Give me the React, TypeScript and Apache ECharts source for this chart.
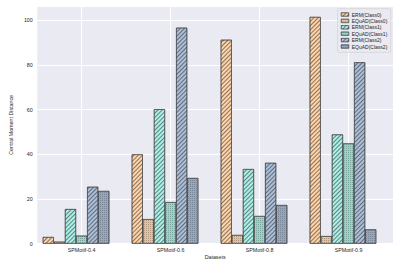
import React, { useEffect, useRef } from 'react';
import * as echarts from 'echarts';

const categories = ['SPMotif-0.4', 'SPMotif-0.6', 'SPMotif-0.8', 'SPMotif-0.9'];
const seriesNames = ['ERM(Class0)', 'EQuAD(Class0)', 'ERM(Class1)', 'EQuAD(Class1)', 'ERM(Class2)', 'EQuAD(Class2)'];
const ermClass0 = [3.0, 40.0, 91.3, 101.5];
const equadClass0 = [0.9, 11.0, 3.9, 3.4];
const ermClass1 = [15.5, 60.2, 33.4, 48.9];
const equadClass1 = [3.6, 18.6, 12.4, 44.9];
const ermClass2 = [25.5, 96.7, 36.2, 81.2];
const equadClass2 = [23.6, 29.4, 17.3, 6.4];
const yMax = 106.4;
const yInterval = 20;

const fills = ['#ffd3a8', '#e6c19c', '#aaf0e7', '#94d6ca', '#abbfd9', '#95a7c0'];
const seriesData = [ermClass0, equadClass0, ermClass1, equadClass1, ermClass2, equadClass2];

const hatchDecal = {
  symbol: 'rect',
  symbolSize: 1,
  dashArrayX: [1, 0],
  dashArrayY: [1, 2],
  rotation: -Math.PI / 4,
  color: 'rgba(40,40,40,0.55)',
};
const dotDecal = {
  symbol: 'rect',
  symbolSize: 1,
  dashArrayX: [1, 1],
  dashArrayY: [1, 1],
  rotation: 0,
  color: 'rgba(60,60,60,0.3)',
};

const FONT = 'Liberation Sans, Arial, sans-serif';
const TXT = '#262626';

export default function App() {
  const ref = useRef<HTMLDivElement>(null);
  useEffect(() => {
    if (!ref.current) return;
    const chart = echarts.init(ref.current, undefined, { renderer: 'svg' });
    const barWidth = 11.1;
    const series: any[] = seriesNames.map((name, i) => ({
      name,
      type: 'bar',
      xAxisIndex: 1,
      yAxisIndex: 1,
      data: seriesData[i],
      barWidth,
      barGap: '0%',
      itemStyle: {
        color: fills[i],
        borderColor: 'rgba(60,60,60,0.85)',
        borderWidth: 0.6,
        decal: i % 2 === 0 ? hatchDecal : dotDecal,
      },
    }));
    series.push({
      name: '__spacer',
      type: 'bar',
      xAxisIndex: 1,
      yAxisIndex: 1,
      data: [null, null, null, null],
      barWidth,
      barGap: '0%',
      silent: true,
    });
    chart.setOption({
      animation: false,
      aria: { enabled: true, decal: { show: true } },
      textStyle: { fontFamily: FONT },
      grid: [
        { left: 26, right: 6, top: 6, bottom: 22.3, show: true, backgroundColor: '#eaeaf2', borderWidth: 0 },
        { left: 37.1, right: 6, top: 6, bottom: 22.3, show: false },
      ],
      xAxis: [
        {
          type: 'value', gridIndex: 0, min: 0, max: 1,
          axisLine: { show: false }, axisTick: { show: false }, axisLabel: { show: false }, splitLine: { show: false },
          name: 'Datasets', nameLocation: 'middle', nameGap: 10.6,
          nameTextStyle: { fontSize: 5.3, color: TXT, fontFamily: FONT },
        },
        {
          type: 'category', gridIndex: 1, data: categories,
          axisLine: { show: false },
          axisTick: { show: true, alignWithLabel: true, inside: true, length: 237.7, lineStyle: { color: '#ffffff', width: 1 } },
          axisLabel: { fontSize: 5.3, color: TXT, margin: 4, fontFamily: FONT },
          splitLine: { show: false },
        },
      ],
      yAxis: [
        {
          type: 'value', gridIndex: 0, min: 0, max: yMax, interval: yInterval,
          axisLine: { show: false }, axisTick: { show: false },
          axisLabel: { fontSize: 5.3, color: TXT, margin: 4.5, fontFamily: FONT,
            formatter: (v: number) => (v > 100 ? '' : String(v)) },
          splitLine: { show: true, lineStyle: { color: '#ffffff', width: 1 } },
          name: 'Central Moment Distance', nameLocation: 'middle', nameGap: 15.8,
          nameTextStyle: { fontSize: 5.3, color: TXT, fontFamily: FONT },
        },
        {
          type: 'value', gridIndex: 1, min: 0, max: yMax, show: false,
          splitLine: { show: false },
        },
      ],
      legend: {
        data: seriesNames,
        orient: 'vertical',
        right: 8.3,
        top: 8.7,
        icon: 'rect',
        itemWidth: 7.5,
        itemHeight: 3.5,
        itemGap: 0.4,
        padding: [2.8, 3.4],
        backgroundColor: 'rgba(234,234,242,0.85)',
        borderColor: '#cccccc',
        borderWidth: 0.6,
        borderRadius: 1.5,
        itemStyle: { borderWidth: 0.5, borderColor: 'rgba(60,60,60,0.85)' },
        textStyle: { fontSize: 5, color: TXT, lineHeight: 6, fontFamily: FONT, padding: [0, 0, 0, -2] },
      },
      series,
    });
    return () => chart.dispose();
  }, []);
  return <div ref={ref} style={{ width: 399, height: 266, position: 'absolute', left: 0, top: 0 }} />;
}
